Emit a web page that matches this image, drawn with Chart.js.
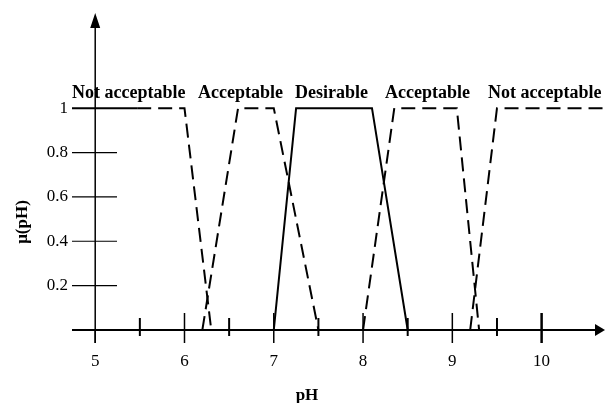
<!DOCTYPE html>
<html>
<head>
<meta charset="utf-8">
<script src="https://cdn.jsdelivr.net/npm/chart.js@4.4.1/dist/chart.umd.min.js"></script>
<style>
  html, body { margin: 0; padding: 0; background: #fff; }
  #wrap { width: 605px; height: 403px; }
</style>
</head>
<body>
<div id="wrap"><canvas id="fuzzyChart"></canvas></div>
<script>
// membership functions (pH, mu)
const notAccLowPH = [4.74, 5.47, 6.0, 6.3];
const notAccLowMu = [1, 1, 1, 0];
const accLowPH = [6.2, 6.6, 7.0, 7.5];
const accLowMu = [0, 1, 1, 0];
const desirablePH = [7.0, 7.25, 8.1, 8.5];
const desirableMu = [0, 1, 1, 0];
const accHighPH = [8.0, 8.35, 9.05, 9.3];
const accHighMu = [0, 1, 1, 0];
const notAccHighPH = [9.2, 9.5, 10.71];
const notAccHighMu = [0, 1, 1];

const xTicks = [5, 6, 7, 8, 9, 10];
const xHalfTicks = [5.5, 6.5, 7.5, 8.5, 9.5];
const yTicks = [0.2, 0.4, 0.6, 0.8, 1];
const classNames = ['Not acceptable', 'Acceptable', 'Desirable', 'Acceptable', 'Not acceptable'];

const toPoints = (xs, ys) => xs.map((x, i) => ({ x: x, y: ys[i] }));
const DASH = [14, 7];

function series(xs, ys, dashed) {
    return {
        data: toPoints(xs, ys),
        showLine: true,
        borderColor: '#000',
        borderWidth: 2,
        pointRadius: 0,
        borderDash: dashed ? DASH : [],
        tension: 0
    };
}

const leftNotAcc = series(notAccLowPH, notAccLowMu, true);
// first stretch of this curve is drawn solid in the figure
leftNotAcc.segment = { borderDash: ctx => ctx.p0DataIndex === 0 ? [] : DASH };

// axes, ticks and text are drawn by hand to match the figure
const fuzzyAxes = {
    id: 'fuzzyAxes',
    afterDatasetsDraw(chart) {
        const c = chart.ctx;
        const xs = chart.scales.x, ys = chart.scales.y;
        const x0 = xs.getPixelForValue(5);
        const y0 = ys.getPixelForValue(0);
        const left = chart.chartArea.left, right = chart.chartArea.right, top = chart.chartArea.top;
        c.save();
        c.strokeStyle = '#000';
        c.fillStyle = '#000';

        // x axis line + arrow
        c.lineWidth = 2;
        c.beginPath(); c.moveTo(left, y0); c.lineTo(right - 6, y0); c.stroke();
        c.beginPath(); c.moveTo(right, y0); c.lineTo(right - 10, y0 - 6); c.lineTo(right - 10, y0 + 6); c.closePath(); c.fill();

        // y axis line + arrow
        c.lineWidth = 1.5;
        c.beginPath(); c.moveTo(x0, y0 + 13); c.lineTo(x0, top + 8); c.stroke();
        c.beginPath(); c.moveTo(x0, top - 2); c.lineTo(x0 - 5, top + 13); c.lineTo(x0 + 5, top + 13); c.closePath(); c.fill();

        // x ticks
        xTicks.forEach(v => {
            const px = xs.getPixelForValue(v);
            c.lineWidth = v === 10 ? 2.5 : 1.5;
            c.beginPath(); c.moveTo(px, v === 5 ? y0 : y0 - 17); c.lineTo(px, y0 + 13); c.stroke();
        });
        xHalfTicks.forEach(v => {
            const px = xs.getPixelForValue(v);
            c.lineWidth = 2;
            c.beginPath(); c.moveTo(px, y0 - 12); c.lineTo(px, y0 + 6); c.stroke();
        });

        // y ticks
        c.lineWidth = 1.2;
        yTicks.forEach(v => {
            const py = ys.getPixelForValue(v);
            if (v < 1) { c.beginPath(); c.moveTo(left, py); c.lineTo(left + 45, py); c.stroke(); }
        });

        // tick labels
        c.font = '17px "Liberation Serif", "DejaVu Serif", serif';
        c.textAlign = 'center';
        c.textBaseline = 'middle';
        xTicks.forEach(v => c.fillText(String(v), xs.getPixelForValue(v), y0 + 32));
        c.textAlign = 'right';
        yTicks.forEach(v => c.fillText(String(v), left - 4, ys.getPixelForValue(v)));

        // axis titles
        c.font = 'bold 17px "Liberation Serif", "DejaVu Serif", serif';
        c.textAlign = 'center';
        c.fillText('pH', 307, y0 + 66);
        c.save();
        c.translate(23, 222);
        c.rotate(-Math.PI / 2);
        c.fillText('\u03bc(pH)', 0, 0);
        c.restore();

        // class names along the top
        c.font = 'bold 18px "Liberation Serif", "DejaVu Serif", serif';
        c.textAlign = 'left';
        c.textBaseline = 'alphabetic';
        const nameX = [72, 198, 295, 385, 488];
        const nameY = ys.getPixelForValue(1) - 10;
        classNames.forEach((t, i) => c.fillText(t, nameX[i], nameY));
        c.restore();
    }
};

const ctx = document.getElementById('fuzzyChart').getContext('2d');
new Chart(ctx, {
    type: 'scatter',
    data: {
        datasets: [
            leftNotAcc,
            series(accLowPH, accLowMu, true),
            series(desirablePH, desirableMu, false),
            series(accHighPH, accHighMu, true),
            series(notAccHighPH, notAccHighMu, true)
        ]
    },
    options: {
        responsive: true,
        maintainAspectRatio: false,
        animation: false,
        events: [],
        layout: { padding: { left: 72, right: 0, top: 15, bottom: 73 } },
        plugins: { legend: { display: false }, tooltip: { enabled: false } },
        scales: {
            x: { type: 'linear', min: 4.74, max: 10.71, display: false },
            y: { type: 'linear', min: 0, max: 1.42, display: false }
        }
    },
    plugins: [fuzzyAxes]
});
</script>
</body>
</html>
